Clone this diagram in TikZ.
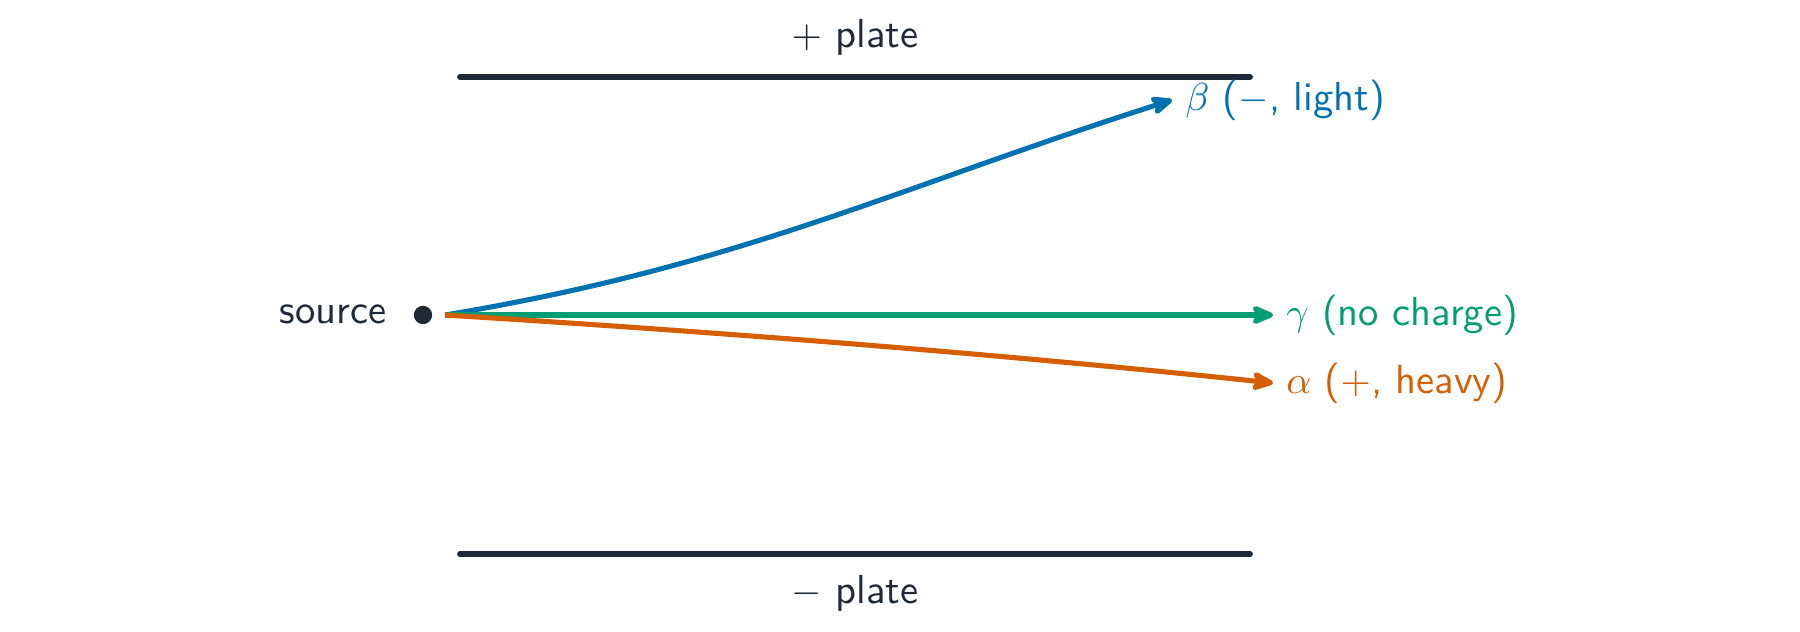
\documentclass[tikz,border=0pt]{standalone}
\usetikzlibrary{arrows.meta}
\definecolor{platec}{HTML}{1F2937}
\definecolor{betac}{HTML}{0072B2}
\definecolor{gammac}{HTML}{009E73}
\definecolor{alphac}{HTML}{D55E00}
\begin{document}
\begin{tikzpicture}[x=0.2564pt,y=-0.2564pt,
  platestyle/.style={line width=1.5pt, line cap=round, draw=platec},
  ray/.style={line width=1.3pt, -{Stealth[length=7.2pt,width=6pt,inset=2pt,round]}},
  lbl/.style={font=\fontsize{10.4}{12.5}\selectfont\sffamily, inner sep=3.2pt}]
\useasboundingbox (0,0) rectangle (1800,631);
% plates
\coordinate (tpA) at (460,77);
\coordinate (tpB) at (1250,77);
\coordinate (bpA) at (460,554);
\coordinate (bpB) at (1250,554);
\draw[platestyle] (tpA) -- (tpB);
\draw[platestyle] (bpA) -- (bpB);
\node[lbl, text=platec, anchor=base] (pp) at (855,47) {$+$ plate};
\node[lbl, text=platec, anchor=base] (mp) at (855,603) {$-$ plate};
% source
\node[circle, fill=platec, inner sep=0pt, minimum size=4.7pt] (src) at (423,315) {};
\node[lbl, text=platec, anchor=base east, inner sep=0pt] (srclbl) at (387,323) {source};
\coordinate (emit) at (445,315);
% labels
\node[lbl, text=betac, anchor=west] (bl) at (1172,100) {$\beta$ ($-$, light)};
\node[lbl, text=gammac, anchor=west] (gl) at (1273,315) {$\gamma$ (no charge)};
\node[lbl, text=alphac, anchor=west] (al) at (1273,383) {$\alpha$ ($+$, heavy)};
% rays
\draw[ray, betac] (emit) .. controls (740,266) and (890,190) .. (bl.west);
\draw[ray, gammac] (emit) -- (gl.west);
\draw[ray, alphac] (emit) .. controls (720,332) and (999,354) .. (al.west);
\end{tikzpicture}
\end{document}
